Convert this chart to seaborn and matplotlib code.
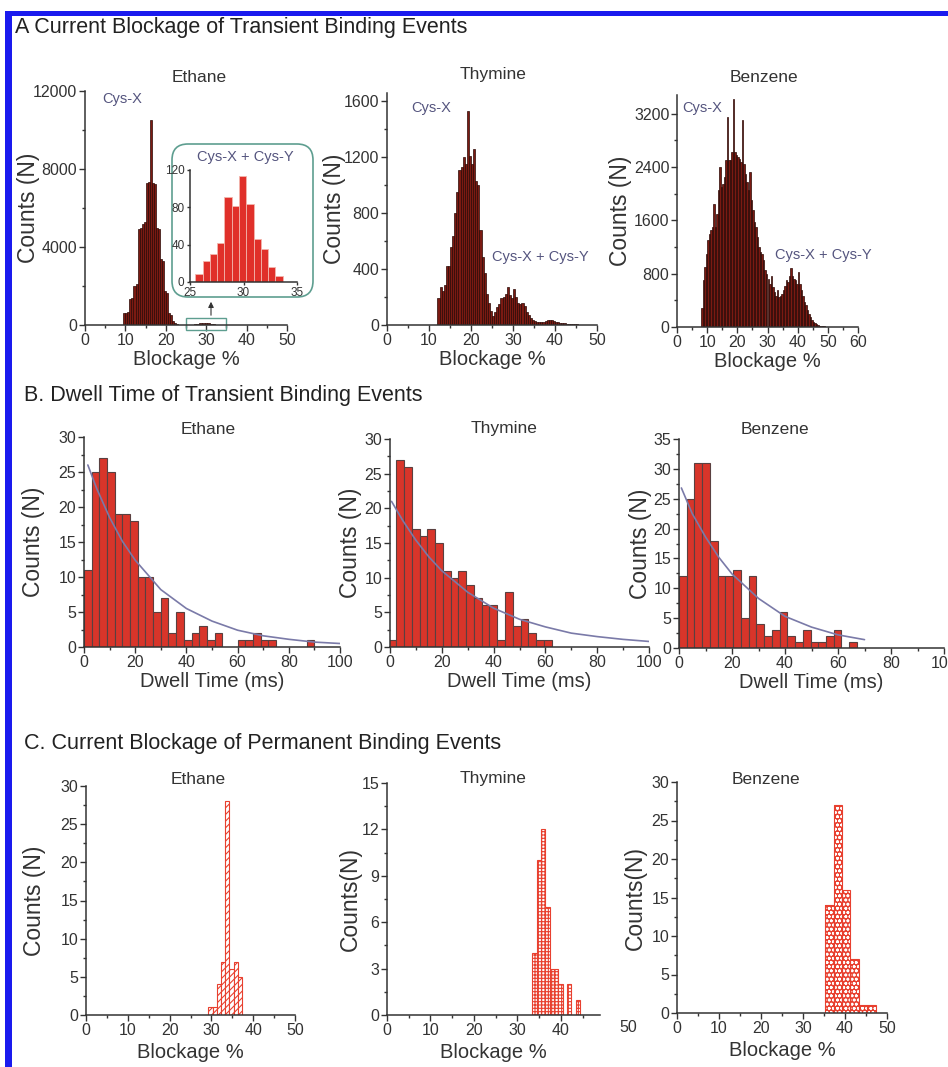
import matplotlib.pyplot as plt
import numpy as np
import pandas as pd
import seaborn as sns
from matplotlib.patches import FancyBboxPatch, Rectangle
from matplotlib.ticker import MultipleLocator

# ---- data ----
# A: current blockage of transient events (0.5 % bins)
a_eth_start, a_eth_width = 9.5, 0.5
a_eth_counts = [600, 620, 650, 1350, 1400, 2000, 2080, 4900, 5000, 5200, 5300, 7300, 7350,
                10500, 7300, 7250, 5000, 4900, 3400, 3300, 1750, 1650, 600, 500, 200, 100, 50]
inset_start, inset_width = 25.5, 0.68
inset_counts = [9, 22, 30, 42, 91, 81, 114, 84, 46, 35, 16, 6]

a_thy_start, a_thy_width = 12.0, 0.5
a_thy_counts = [190, 275, 240, 285, 420, 425, 560, 640, 800, 950, 1110, 1130, 1200, 1150, 1530,
                1210, 1150, 1260, 1030, 1000, 680, 490, 370, 225, 160, 100, 65, 90, 130, 150,
                190, 200, 225, 270, 215, 190, 260, 200, 155, 150, 155, 135, 95, 70, 48, 36,
                30, 25, 22, 22, 25, 28, 35, 38, 35, 30, 25, 20, 16, 14, 12, 10, 8, 6, 5, 5,
                4, 3, 3, 2, 2]

a_ben_start, a_ben_width = 8.0, 0.5
a_ben_counts = [280, 700, 900, 1100, 1300, 1400, 1450, 1500, 1850, 1500, 1700, 2050, 2400, 2100,
                2150, 2250, 2500, 3150, 2500, 2500, 2620, 3420, 2620, 2580, 2550, 2520, 2480,
                3100, 2450, 2300, 2180, 2050, 2330, 1900, 1750, 1580, 1500, 1350, 1200, 1130,
                1100, 1000, 850, 800, 720, 650, 760, 600, 520, 470, 560, 450, 460, 500, 560,
                620, 700, 680, 760, 880, 760, 720, 700, 650, 820, 640, 560, 470, 380, 330, 250,
                200, 150, 110, 75, 55, 40, 30, 20, 15, 10, 8, 5, 3]

# B: dwell time of transient events
b_eth_start, b_eth_width = 0.0, 3.0
b_eth_counts = [11, 25, 27, 25, 19, 19, 18, 10, 10, 5, 7, 2, 5, 1, 2, 3, 1, 2, 0, 0,
                1, 1, 2, 1, 1, 0, 0, 0, 0, 1]
b_eth_fit_x = [1.5, 5, 10, 15, 20, 30, 40, 50, 60, 70, 80, 90, 100]
b_eth_fit_y = [26.0, 22.6, 18.5, 15.1, 12.4, 8.2, 5.5, 3.7, 2.4, 1.6, 1.1, 0.7, 0.5]

b_thy_start, b_thy_width = -0.6, 3.0
b_thy_counts = [1, 27, 26, 17, 16, 17, 15, 11, 10, 11, 9, 7, 6, 6, 1, 8, 3, 4, 2, 1, 1]
b_thy_fit_x = [0.6, 5, 10, 15, 20, 30, 40, 50, 60, 70, 80, 90, 100]
b_thy_fit_y = [21.0, 18.2, 15.4, 13.0, 11.0, 7.9, 5.6, 4.0, 2.9, 2.0, 1.5, 1.1, 0.8]

b_ben_start, b_ben_width = 0.0, 2.92
b_ben_counts = [12, 25, 31, 31, 18, 12, 12, 13, 5, 12, 4, 2, 3, 6, 2, 1, 3, 1, 1, 2, 3, 0, 1]
b_ben_fit_x = [0.9, 5, 10, 15, 20, 30, 40, 50, 60, 70]
b_ben_fit_y = [26.8, 22.5, 18.6, 15.2, 12.4, 8.3, 5.3, 3.5, 2.2, 1.4]

# C: current blockage of permanent events
c_eth_start, c_eth_width = 29.3, 1.0
c_eth_counts = [1, 1, 4, 7, 28, 6, 7, 5]
c_thy_start, c_thy_width = 33.4, 1.0
c_thy_counts = [4, 10, 12, 7, 3, 3, 2, 0, 2, 0, 1]
c_ben_start, c_ben_width = 35.3, 2.0
c_ben_counts = [14, 27, 16, 7, 1, 1]

# ---- style ----
sns.set_style("ticks")
plt.rcParams["font.family"] = ["Liberation Sans", "DejaVu Sans"]
plt.rcParams["hatch.linewidth"] = 0.8

DARK = "#333333"
SLATE = "#55557f"
TEAL = "#5e9e90"
W, H = 948, 1067

fig = plt.figure(figsize=(W / 100, H / 100), dpi=100)


def frac(l, t, r, b):
    return [l / W, 1 - b / H, (r - l) / W, (b - t) / H]


def ftext(x, y, s, **kw):
    kw.setdefault("ha", "center")
    kw.setdefault("va", "center")
    fig.text(x / W, 1 - y / H, s, **kw)


def hist(ax, start, width, counts, **kw):
    edges = start + width * np.arange(len(counts) + 1)
    df = pd.DataFrame({"x": (edges[:-1] + edges[1:]) / 2, "n": np.asarray(counts, dtype=float)})
    sns.histplot(data=df, x="x", weights="n", bins=edges.tolist(), ax=ax, alpha=1, **kw)


def style(ax, xlim, ylim, xmaj, xmin, ymaj, ymin, fs=11.5, pad=2):
    sns.despine(ax=ax)
    ax.set_facecolor("none")
    for s in ["left", "bottom"]:
        ax.spines[s].set_color(DARK)
        ax.spines[s].set_linewidth(1.1)
    ax.set_xlim(*xlim)
    ax.set_ylim(*ylim)
    ax.xaxis.set_major_locator(MultipleLocator(xmaj))
    ax.xaxis.set_minor_locator(MultipleLocator(xmin))
    ax.yaxis.set_major_locator(MultipleLocator(ymaj))
    ax.yaxis.set_minor_locator(MultipleLocator(ymin))
    ax.tick_params(which="both", direction="out", colors=DARK, width=1, labelsize=fs, pad=pad)
    ax.tick_params(which="major", length=4)
    ax.tick_params(which="minor", length=2)
    ax.tick_params(axis="y", pad=1.5)


def labels(ax, box, xl, yl, ylab_x, xpad=1):
    ax.set_xlabel(xl, fontsize=14.5, color=DARK, labelpad=xpad)
    ax.set_ylabel(yl, fontsize=16.5, color=DARK)
    ax.yaxis.label.set_va("center")
    l, t, r, b = box
    ax.yaxis.set_label_coords((ylab_x - l) / (r - l), 0.5)


A_FACE, A_EDGE = "#7b1a12", "#2a0805"
B_FACE, B_EDGE = "#d8352a", "#5a4040"
C_RED = "#e8402f"

# ---- row A ----
box = (85, 91, 287, 325)
ax = fig.add_axes(frac(*box))
hist(ax, a_eth_start, a_eth_width, a_eth_counts, color=A_FACE, edgecolor=A_EDGE, linewidth=0.5)
hist(ax, inset_start, inset_width, inset_counts, color=A_FACE, edgecolor=A_EDGE, linewidth=0.5)
style(ax, (0, 50), (0, 12000), 10, 5, 4000, 2000)
labels(ax, box, "Blockage %", "Counts (N)", 29)
ax.add_patch(Rectangle((25, -260), 10, 620, fill=False, edgecolor=TEAL, lw=1, clip_on=False))
ax.annotate("", xy=(211 / W, 1 - 299 / H), xytext=(211 / W, 1 - 318 / H),
            xycoords="figure fraction", textcoords="figure fraction",
            arrowprops=dict(arrowstyle="-|>", color=DARK, lw=0.8, mutation_scale=8))

box = (387, 93, 597, 325)
ax = fig.add_axes(frac(*box))
hist(ax, a_thy_start, a_thy_width, a_thy_counts, color=A_FACE, edgecolor=A_EDGE, linewidth=0.5)
style(ax, (0, 50), (0, 1660), 10, 5, 400, 200)
labels(ax, box, "Blockage %", "Counts (N)", 334)

box = (677, 95, 858, 327)
ax = fig.add_axes(frac(*box))
hist(ax, a_ben_start, a_ben_width, a_ben_counts, color=A_FACE, edgecolor=A_EDGE, linewidth=0.5)
style(ax, (0, 60), (0, 3480), 10, 5, 800, 400)
labels(ax, box, "Blockage %", "Counts (N)", 621)

# inset
fig.add_artist(FancyBboxPatch((1.72, (H - 297) / 100), 1.41, 1.53,
                              boxstyle="round,pad=0,rounding_size=0.16",
                              transform=fig.dpi_scale_trans, facecolor="none",
                              edgecolor=TEAL, lw=1.2, zorder=2))
ax = fig.add_axes(frac(190, 170, 297, 282), zorder=3)
hist(ax, inset_start, inset_width, inset_counts, color="#e0302a", edgecolor="#f2b5ad", linewidth=0.6)
style(ax, (25, 35), (0, 120), 5, 5, 40, 40, fs=8.5, pad=1)
ax.tick_params(which="major", length=2.5)
ax.set_xlabel("")
ax.set_ylabel("")

# ---- row B ----
for box, start, width, counts, fx, fy, ylim, ylx in [
    ((84, 437, 340, 647), b_eth_start, b_eth_width, b_eth_counts, b_eth_fit_x, b_eth_fit_y, 30, 33),
    ((390, 439, 649, 647), b_thy_start, b_thy_width, b_thy_counts, b_thy_fit_x, b_thy_fit_y, 30, 351),
    ((679, 439, 944, 648), b_ben_start, b_ben_width, b_ben_counts, b_ben_fit_x, b_ben_fit_y, 35, 640),
]:
    ax = fig.add_axes(frac(*box))
    hist(ax, start, width, counts, color=B_FACE, edgecolor=B_EDGE, linewidth=0.8)
    sns.lineplot(x=fx, y=fy, ax=ax, color="#7a7aa8", lw=1.2)
    style(ax, (0, 100), (0, ylim), 20, 10, 5, 2.5)
    labels(ax, box, "Dwell Time (ms)", "Counts (N)", ylx)

# ---- row C ----
box = (86, 786, 295, 1015)
ax = fig.add_axes(frac(*box))
hist(ax, c_eth_start, c_eth_width, c_eth_counts, color="white", edgecolor=C_RED, linewidth=0.8,
     hatch="/////")
style(ax, (0, 50), (0, 30), 10, 5, 5, 2.5)
labels(ax, box, "Blockage %", "Counts (N)", 35, xpad=3)

box = (387, 783, 600, 1015)
ax = fig.add_axes(frac(*box))
hist(ax, c_thy_start, c_thy_width, c_thy_counts, color="white", edgecolor=C_RED, linewidth=0.8,
     hatch="+++++")
style(ax, (0, 49), (0, 15), 10, 5, 3, 1.5)
labels(ax, box, "Blockage %", "Counts(N)", 350, xpad=3)
ftext(628, 1028, "50", fontsize=11.5, color=DARK)

box = (677, 782, 887, 1013)
ax = fig.add_axes(frac(*box))
hist(ax, c_ben_start, c_ben_width, c_ben_counts, color=C_RED, edgecolor="white", linewidth=0,
     hatch="oooo")
hist(ax, c_ben_start, c_ben_width, c_ben_counts, fill=False, color=C_RED, edgecolor=C_RED,
     linewidth=0.8)
style(ax, (0, 50), (0, 30), 10, 5, 5, 2.5)
labels(ax, box, "Blockage %", "Counts(N)", 635, xpad=3)

# ---- texts ----
ftext(15, 28, "A Current Blockage of Transient Binding Events", ha="left", fontsize=15.5, color="#222222")
ftext(24, 395, "B. Dwell Time of Transient Binding Events", ha="left", fontsize=15.5, color="#222222")
ftext(24, 743, "C. Current Blockage of Permanent Binding Events", ha="left", fontsize=15.5, color="#222222")

for x, y, s in [(199, 78, "Ethane"), (493, 75, "Thymine"), (764, 77, "Benzene"),
                (208, 430, "Ethane"), (504, 429, "Thymine"), (775, 430, "Benzene"),
                (198, 780, "Ethane"), (493, 778, "Thymine"), (766, 779, "Benzene")]:
    ftext(x, y, s, fontsize=12.5, color=DARK)

for x, y, s in [(122, 99, "Cys-X"), (431, 108, "Cys-X"), (702, 108, "Cys-X"),
                (540, 257, "Cys-X + Cys-Y"), (823, 255, "Cys-X + Cys-Y"), (245, 157, "Cys-X + Cys-Y")]:
    ftext(x, y, s, fontsize=10.5, color=SLATE)

# blue frame (left and top)
fig.add_artist(Rectangle((5 / W, 0), 7 / W, 1 - 11 / H, transform=fig.transFigure,
                         color="#1a1aee", lw=0, zorder=5))
fig.add_artist(Rectangle((5 / W, 1 - 16 / H), 1, 5 / H, transform=fig.transFigure,
                         color="#1a1aee", lw=0, zorder=5))

fig.savefig("out.png", dpi=100)
